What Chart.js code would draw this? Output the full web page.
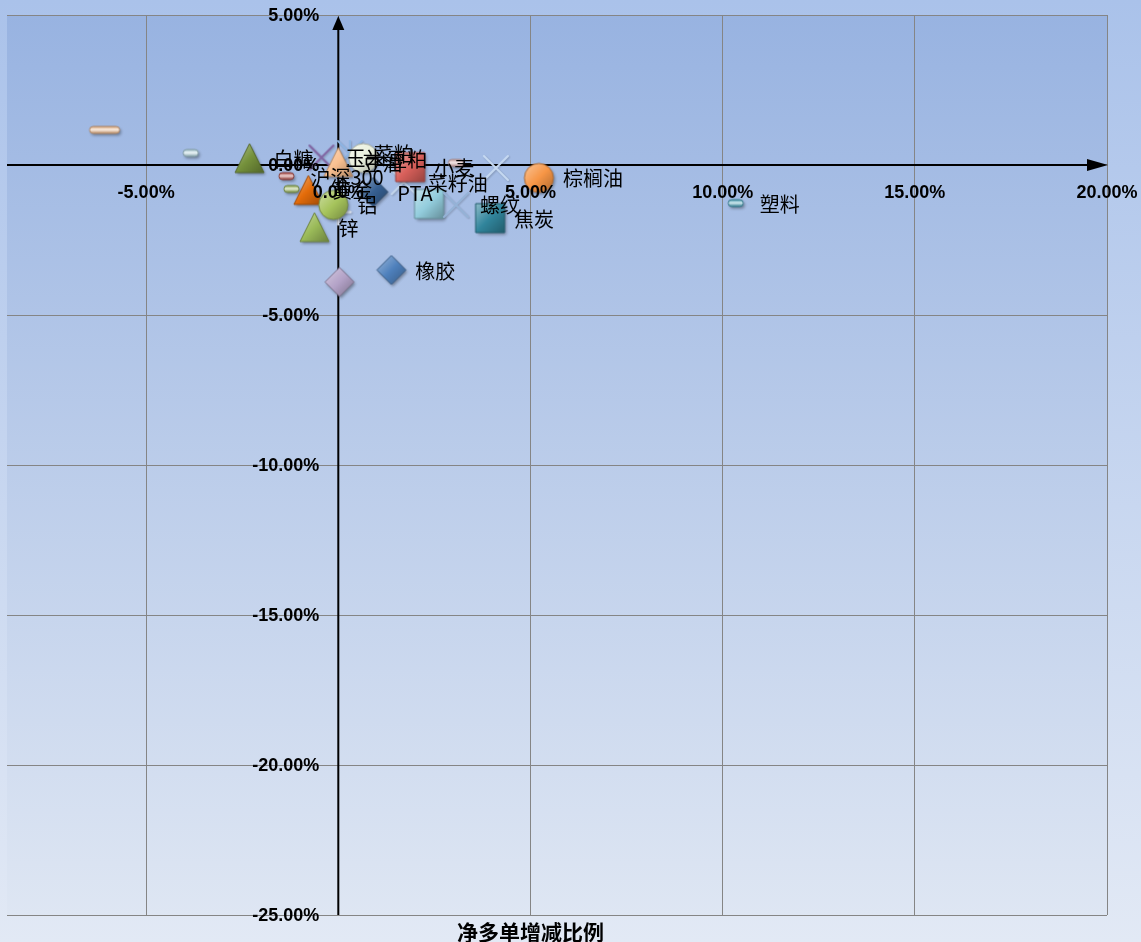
<!DOCTYPE html>
<html><head><meta charset="utf-8">
<script src="https://cdn.jsdelivr.net/npm/chart.js@4"></script>
<style>html,body{margin:0;padding:0;background:#fff;}</style>
</head><body>
<canvas id="c" width="1141" height="942"></canvas>
<script>
// ---- data (values in %) ----
const pointNames = ['菜籽油','橡胶','小麦','锌','玉米','菜粕','棕榈油','','沪深300','','','','黄金','螺纹','铝','塑料','','PTA','焦炭','白糖','豆油','豆粕','','',''];
const xValues = [1.70, 1.38, 1.87, -0.62, -0.44, 0.30, 5.22, 0.00, -1.35, -1.22, 0.03, 2.36, -0.78, 3.06, -0.13, 10.34, -6.08, 0.91, 3.95, -2.31, 0.00, 0.65, -3.84, 3.06, 4.10];
const yValues = [-0.57, -3.50, -0.07, -2.07, 0.25, 0.40, -0.43, -1.57, -0.37, -0.80, -3.90, -1.30, -0.83, -1.33, -1.33, -1.27, 1.17, -0.90, -1.77, 0.23, 0.10, 0.23, 0.40, 0.07, -0.10];
const xTickValues = [-5, 0, 5, 10, 15, 20];
const xTickLabels = ['-5.00%', '0.00%', '5.00%', '10.00%', '15.00%', '20.00%'];
const yTickValues = [5, 0, -5, -10, -15, -20, -25];
const yTickLabels = ['5.00%', '0.00%', '-5.00%', '-10.00%', '-15.00%', '-20.00%', '-25.00%'];
const xTitle = '净多单增减比例';

// ---- marker styles (separate from data) ----
const markerShapes = ['x','diamond','square','triangle','x','star','circle','plus','dash','dash','diamond','square','triangle','x','circle','dash','longdash','diamond','square','triangle','triangle','circle','dash','dash','x'];
const markerColors = ['#C3D5EC','#4F81BD','#D9605B','#9BBB59','#8064A2','#8DB4E2','#F79646','#D4DCEA','#C0504D','#9BBB59','#B3A2C7','#93CDDD','#E46C0A','#95B3D7','#A6C45C','#4BACC6','#FAC090','#376092','#31859C','#76923C','#FAC090','#EBF1DE','#B7DEE8','#E6B9B8','#C6D9F1'];

function shade(hex, amt){
  const n = parseInt(hex.slice(1),16);
  let r = n>>16, g = (n>>8)&255, b = n&255;
  if (amt >= 0){ r += (255-r)*amt; g += (255-g)*amt; b += (255-b)*amt; }
  else { r *= 1+amt; g *= 1+amt; b *= 1+amt; }
  return 'rgb(' + (r|0) + ',' + (g|0) + ',' + (b|0) + ')';
}
function makeMarker(shape, color){
  const dims = {dash:[15,7], longdash:[30,7], x:[24,24], star:[24,24], plus:[24,24]}[shape] || [29,29];
  const pad = 7, w = dims[0], h = dims[1];
  const c = document.createElement('canvas');
  c.width = w + pad*2; c.height = h + pad*2;
  const ctx = c.getContext('2d');
  const cx = c.width/2, cy = c.height/2;
  const L = cx - w/2, T = cy - h/2;
  if (shape === 'x' || shape === 'star' || shape === 'plus'){
    ctx.strokeStyle = color; ctx.lineWidth = shape === 'plus' ? 3 : 2; ctx.lineCap = 'round';
    ctx.shadowColor = 'rgba(0,0,0,0.2)'; ctx.shadowBlur = 2; ctx.shadowOffsetX = 1; ctx.shadowOffsetY = 1;
    ctx.beginPath();
    if (shape !== 'plus'){ ctx.moveTo(L,T); ctx.lineTo(L+w,T+h); ctx.moveTo(L+w,T); ctx.lineTo(L,T+h); }
    if (shape === 'star'){ ctx.moveTo(cx,T); ctx.lineTo(cx,T+h); }
    if (shape === 'plus'){ ctx.moveTo(cx,T); ctx.lineTo(cx,T+h); ctx.moveTo(L,cy); ctx.lineTo(L+w,cy); }
    ctx.stroke();
    return c;
  }
  const p = new Path2D();
  if (shape === 'diamond'){ p.moveTo(cx,T); p.lineTo(L+w,cy); p.lineTo(cx,T+h); p.lineTo(L,cy); p.closePath(); }
  else if (shape === 'square'){ p.rect(L,T,w,h); }
  else if (shape === 'triangle'){ p.moveTo(cx,T); p.lineTo(L+w,T+h); p.lineTo(L,T+h); p.closePath(); }
  else if (shape === 'circle'){ p.arc(cx,cy,w/2,0,Math.PI*2); }
  else { const r = h/2; p.moveTo(L+r,T); p.lineTo(L+w-r,T); p.arc(L+w-r,cy,r,-Math.PI/2,Math.PI/2); p.lineTo(L+r,T+h); p.arc(L+r,cy,r,Math.PI/2,Math.PI*1.5); p.closePath(); }
  ctx.save();
  ctx.shadowColor = 'rgba(0,0,0,0.35)'; ctx.shadowBlur = 3; ctx.shadowOffsetX = 1.5; ctx.shadowOffsetY = 2;
  let g;
  if (shape === 'dash' || shape === 'longdash'){
    g = ctx.createLinearGradient(0,T,0,T+h);
    g.addColorStop(0, shade(color,-0.15)); g.addColorStop(0.45, shade(color,0.75)); g.addColorStop(1, shade(color,-0.25));
  } else {
    g = ctx.createLinearGradient(L,T,L+w,T+h);
    g.addColorStop(0, shade(color,0.45)); g.addColorStop(0.5, color); g.addColorStop(1, shade(color,-0.3));
  }
  ctx.fillStyle = g; ctx.fill(p);
  ctx.restore();
  ctx.strokeStyle = shade(color,-0.3); ctx.lineWidth = 1; ctx.stroke(p);
  return c;
}
const markerImages = markerShapes.map((s,i) => makeMarker(s, markerColors[i]));

const bgPlugin = {
  id: 'bg',
  beforeDraw(chart){
    const {ctx, chartArea:a, width, height} = chart;
    ctx.save();
    let g = ctx.createLinearGradient(0,0,0,height);
    g.addColorStop(0,'#AAC2EA'); g.addColorStop(1,'#E2E9F5');
    ctx.fillStyle = g; ctx.fillRect(0,0,width,height);
    g = ctx.createLinearGradient(0,a.top,0,a.bottom);
    g.addColorStop(0,'#98B3E1'); g.addColorStop(1,'#DEE6F3');
    ctx.fillStyle = g; ctx.fillRect(a.left,a.top,a.right-a.left,a.bottom-a.top);
    ctx.restore();
  }
};
const axesPlugin = {
  id: 'axes',
  beforeDatasetsDraw(chart){
    const {ctx, chartArea:a, scales:{x, y}} = chart;
    const x0 = x.getPixelForValue(0), y0 = y.getPixelForValue(0);
    ctx.save();
    ctx.strokeStyle = '#000'; ctx.lineWidth = 2;
    ctx.beginPath();
    ctx.moveTo(a.left, y0); ctx.lineTo(a.right-16, y0);
    ctx.moveTo(x0, a.bottom); ctx.lineTo(x0, a.top+12);
    ctx.stroke();
    ctx.fillStyle = '#000';
    ctx.beginPath(); ctx.moveTo(a.right+1, y0); ctx.lineTo(a.right-20, y0-6); ctx.lineTo(a.right-20, y0+6); ctx.closePath(); ctx.fill();
    ctx.beginPath(); ctx.moveTo(x0, a.top+1); ctx.lineTo(x0-6, a.top+15); ctx.lineTo(x0+6, a.top+15); ctx.closePath(); ctx.fill();
    ctx.restore();
  },
  afterDatasetsDraw(chart){
    const {ctx, chartArea:a, scales:{x, y}} = chart;
    const x0 = x.getPixelForValue(0), y0 = y.getPixelForValue(0);
    ctx.save();
    ctx.fillStyle = '#000';
    ctx.font = 'bold 18px "Liberation Sans", Arial, sans-serif';
    ctx.textBaseline = 'middle';
    ctx.textAlign = 'center';
    xTickValues.forEach((v,i) => ctx.fillText(xTickLabels[i], x.getPixelForValue(v), y0 + 28));
    ctx.textAlign = 'right';
    yTickValues.forEach((v,i) => ctx.fillText(yTickLabels[i], x0 - 19, y.getPixelForValue(v) + 1));
    // data labels
    const meta = chart.getDatasetMeta(0);
    ctx.textAlign = 'left';
    ctx.font = '20px "Noto Sans CJK SC", sans-serif';
    meta.data.forEach((pt,i) => { if (pointNames[i]) ctx.fillText(pointNames[i], pt.x + 24, pt.y + 1); });
    // axis title
    ctx.textAlign = 'center';
    ctx.font = 'bold 21px "Noto Sans CJK SC", sans-serif';
    ctx.fillText(xTitle, x.getPixelForValue(5), a.bottom + 17);
    ctx.restore();
  }
};

new Chart(document.getElementById('c'), {
  type: 'scatter',
  data: {
    datasets: [{
      data: xValues.map((v,i) => ({x: v, y: yValues[i]})),
      pointStyle: markerImages,
      pointRadius: 6,
      clip: false
    }]
  },
  options: {
    responsive: false,
    animation: false,
    devicePixelRatio: 1,
    layout: { padding: { left: 5, top: 15, right: 34, bottom: 27 } },
    plugins: { legend: { display: false }, tooltip: { enabled: false } },
    scales: {
      x: {
        type: 'linear', min: -8.62, max: 20,
        afterBuildTicks: s => { s.ticks = xTickValues.map(v => ({value: v})); },
        ticks: { display: false },
        grid: { color: '#858585', lineWidth: 1, drawTicks: false },
        border: { display: false }
      },
      y: {
        type: 'linear', min: -25, max: 5,
        afterBuildTicks: s => { s.ticks = yTickValues.map(v => ({value: v})); },
        ticks: { display: false },
        grid: { color: '#858585', lineWidth: 1, drawTicks: false },
        border: { display: false }
      }
    }
  },
  plugins: [bgPlugin, axesPlugin]
});
</script>
</body></html>
